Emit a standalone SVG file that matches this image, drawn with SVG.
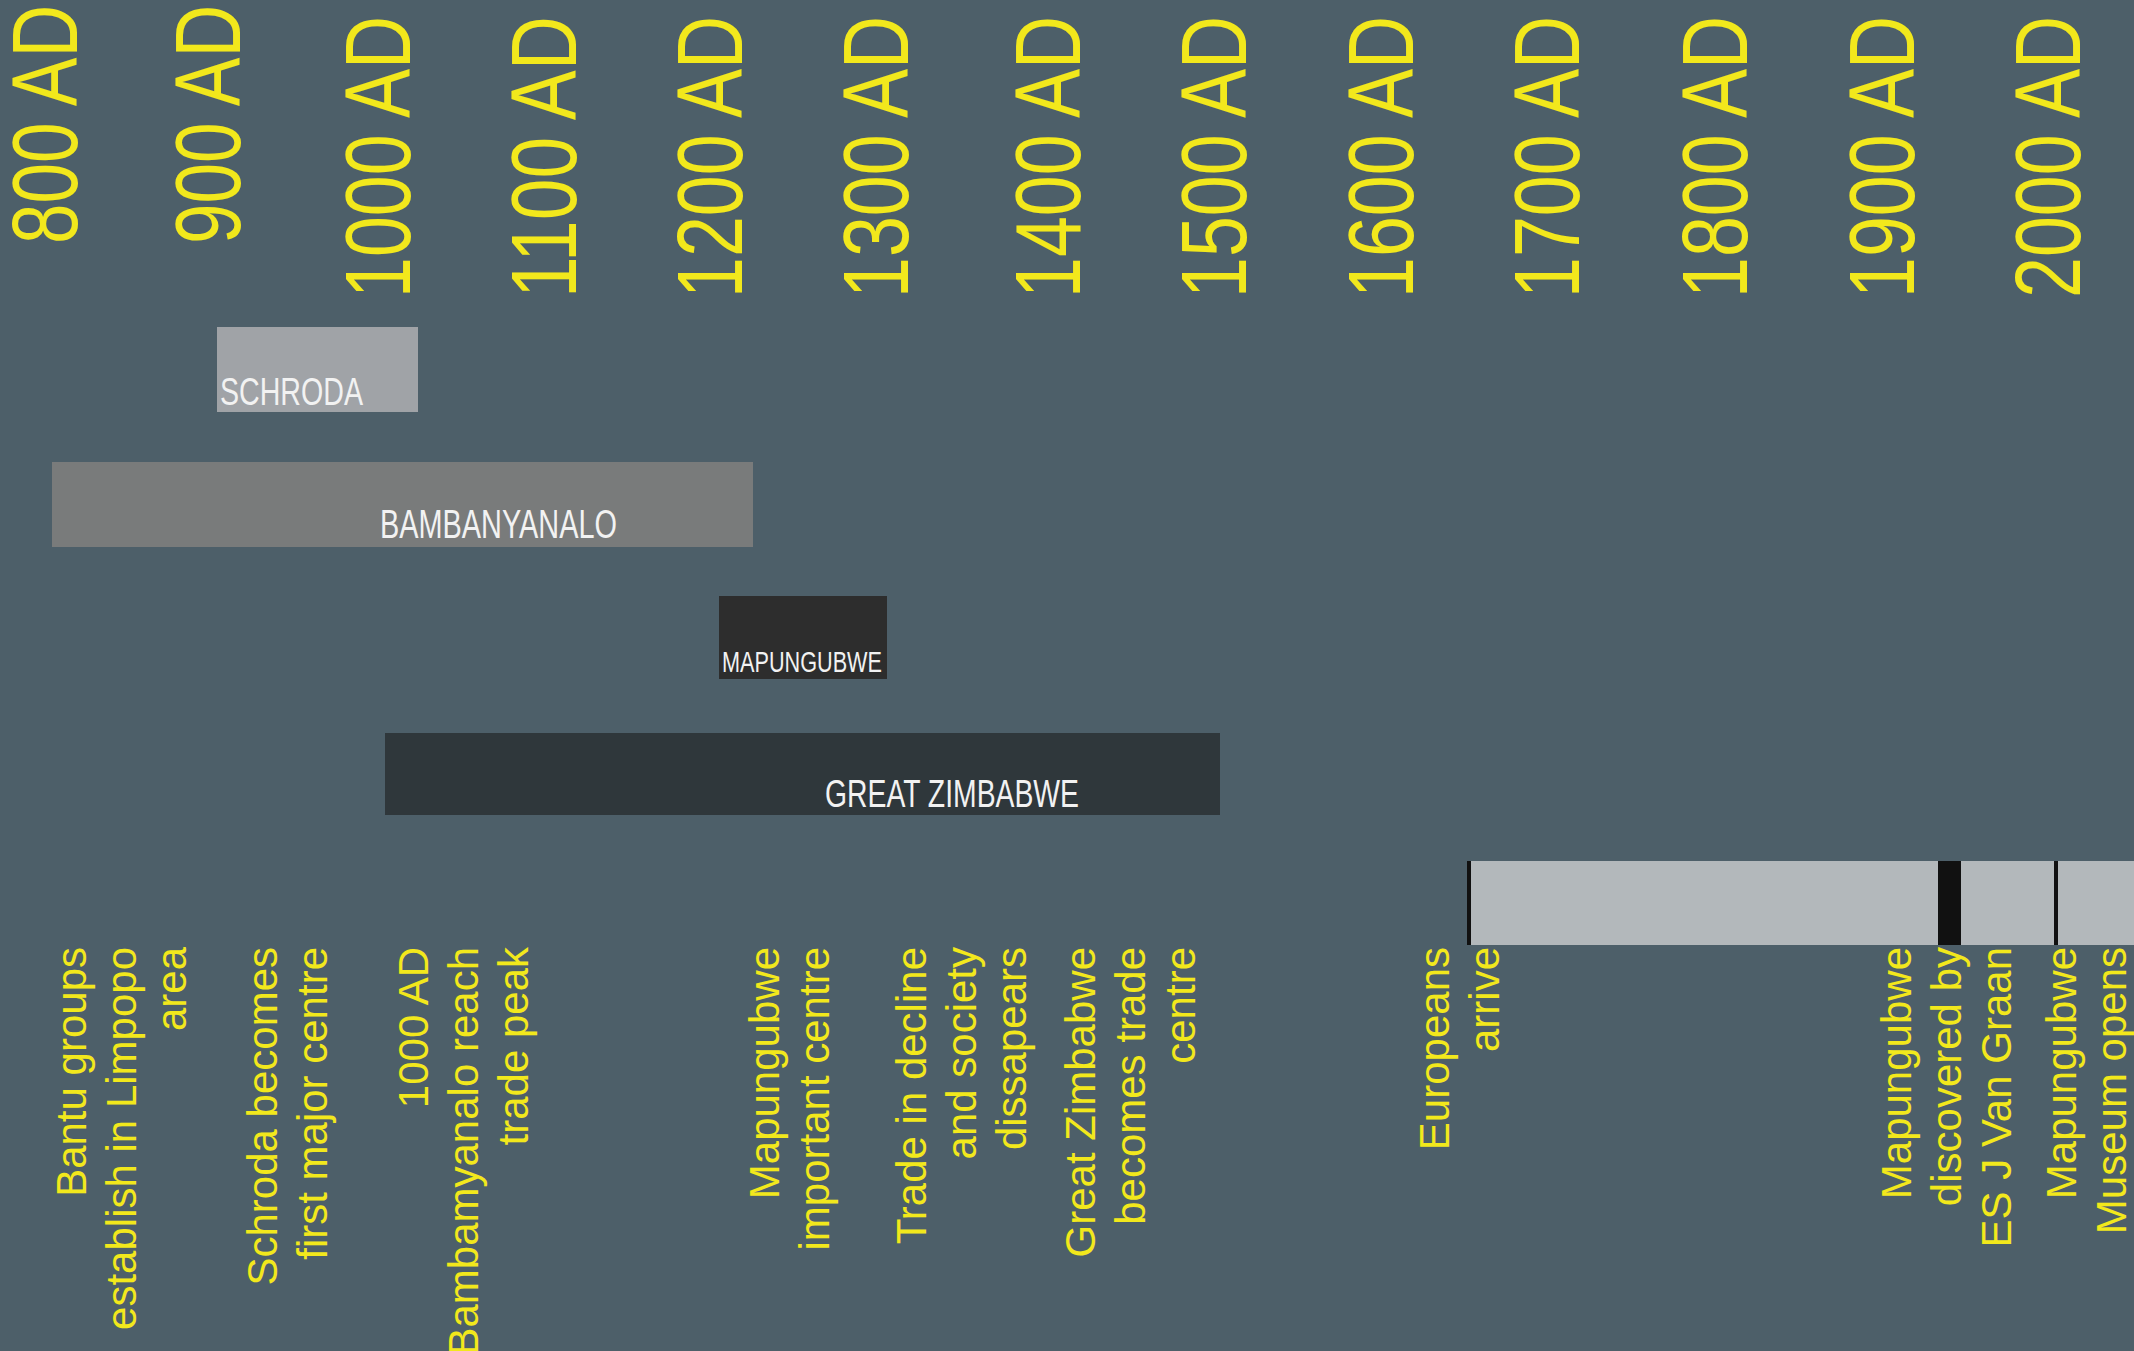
<svg xmlns="http://www.w3.org/2000/svg" width="2134" height="1351" viewBox="0 0 2134 1351">
<style>
text{font-family:"Liberation Sans",Arial,Helvetica,sans-serif}
.yr{font-size:92px;fill:#f2e81c}
.ev{font-size:42px;fill:#f2e81c}
.lbl{fill:#f2f2f2}
</style>
<rect x="0" y="0" width="2134" height="1351" fill="#4d5f69"/>
<g id="years">
<text class="yr" transform="translate(77,244) rotate(-90)" textLength="239" lengthAdjust="spacingAndGlyphs">800 AD</text>
<text class="yr" transform="translate(240,244) rotate(-90)" textLength="239" lengthAdjust="spacingAndGlyphs">900 AD</text>
<text class="yr" transform="translate(410,298) rotate(-90)" textLength="282" lengthAdjust="spacingAndGlyphs">1000 AD</text>
<text class="yr" transform="translate(576,298) rotate(-90)" textLength="282" lengthAdjust="spacingAndGlyphs">1100 AD</text>
<text class="yr" transform="translate(742,298) rotate(-90)" textLength="282" lengthAdjust="spacingAndGlyphs">1200 AD</text>
<text class="yr" transform="translate(908,298) rotate(-90)" textLength="282" lengthAdjust="spacingAndGlyphs">1300 AD</text>
<text class="yr" transform="translate(1080,298) rotate(-90)" textLength="282" lengthAdjust="spacingAndGlyphs">1400 AD</text>
<text class="yr" transform="translate(1246,298) rotate(-90)" textLength="282" lengthAdjust="spacingAndGlyphs">1500 AD</text>
<text class="yr" transform="translate(1413,298) rotate(-90)" textLength="282" lengthAdjust="spacingAndGlyphs">1600 AD</text>
<text class="yr" transform="translate(1579,298) rotate(-90)" textLength="282" lengthAdjust="spacingAndGlyphs">1700 AD</text>
<text class="yr" transform="translate(1747,298) rotate(-90)" textLength="282" lengthAdjust="spacingAndGlyphs">1800 AD</text>
<text class="yr" transform="translate(1914,298) rotate(-90)" textLength="282" lengthAdjust="spacingAndGlyphs">1900 AD</text>
<text class="yr" transform="translate(2080,298) rotate(-90)" textLength="282" lengthAdjust="spacingAndGlyphs">2000 AD</text>
</g>
<g id="schroda">
<rect x="217" y="327" width="201" height="85" fill="#a0a3a7"/>
<text class="lbl" x="220" y="405" font-size="39" textLength="143" lengthAdjust="spacingAndGlyphs">SCHRODA</text>
</g>
<g id="bambanyanalo">
<rect x="52" y="462" width="701" height="85" fill="#797b7b"/>
<text class="lbl" x="380" y="538" font-size="41" textLength="237" lengthAdjust="spacingAndGlyphs">BAMBANYANALO</text>
</g>
<g id="mapungubwe">
<rect x="719" y="596" width="168" height="83" fill="#2d2d2d"/>
<text class="lbl" x="722" y="672" font-size="29" textLength="160" lengthAdjust="spacingAndGlyphs">MAPUNGUBWE</text>
</g>
<g id="great-zimbabwe">
<rect x="385" y="733" width="835" height="82" fill="#2f373b"/>
<text class="lbl" x="825" y="807" font-size="38" textLength="254" lengthAdjust="spacingAndGlyphs">GREAT ZIMBABWE</text>
</g>
<g id="modern-period">
<rect x="1467" y="861" width="667" height="84" fill="#b3b8bb"/>
<rect x="1467" y="861" width="4" height="84" fill="#111111"/>
<rect x="1938" y="861" width="23" height="84" fill="#111111"/>
<rect x="2054" y="861" width="4" height="84" fill="#111111"/>
</g>
<g id="connectors"></g>
<g id="events" text-anchor="end">
<text id="ev-bantu" class="ev" transform="translate(86,947) rotate(-90)"><tspan x="0" y="0">Bantu groups</tspan><tspan x="0" dy="50">establish in Limpopo</tspan><tspan x="0" dy="50">area</tspan></text>
<text id="ev-schroda" class="ev" transform="translate(277,947) rotate(-90)"><tspan x="0" y="0">Schroda becomes</tspan><tspan x="0" dy="50">first major centre</tspan></text>
<text id="ev-bamb" class="ev" transform="translate(428,947) rotate(-90)"><tspan x="0" y="0">1000 AD</tspan><tspan x="0" dy="50">Bambamyanalo reach</tspan><tspan x="0" dy="50">trade peak</tspan></text>
<text id="ev-mapu" class="ev" transform="translate(779,947) rotate(-90)"><tspan x="0" y="0">Mapungubwe</tspan><tspan x="0" dy="50">important centre</tspan></text>
<text id="ev-decline" class="ev" transform="translate(926,947) rotate(-90)"><tspan x="0" y="0">Trade in decline</tspan><tspan x="0" dy="50">and society</tspan><tspan x="0" dy="50">dissapears</tspan></text>
<text id="ev-gz" class="ev" transform="translate(1095,947) rotate(-90)"><tspan x="0" y="0">Great Zimbabwe</tspan><tspan x="0" dy="50">becomes trade</tspan><tspan x="0" dy="50">centre</tspan></text>
<text id="ev-europeans" class="ev" transform="translate(1449,947) rotate(-90)"><tspan x="0" y="0">Europeans</tspan><tspan x="0" dy="50">arrive</tspan></text>
<text id="ev-discovered" class="ev" transform="translate(1911,947) rotate(-90)"><tspan x="0" y="0">Mapungubwe</tspan><tspan x="0" dy="50">discovered by</tspan><tspan x="0" dy="50">ES J Van Graan</tspan></text>
<text id="ev-museum" class="ev" transform="translate(2076,947) rotate(-90)"><tspan x="0" y="0">Mapungubwe</tspan><tspan x="0" dy="50">Museum opens</tspan></text>
</g>
</svg>
